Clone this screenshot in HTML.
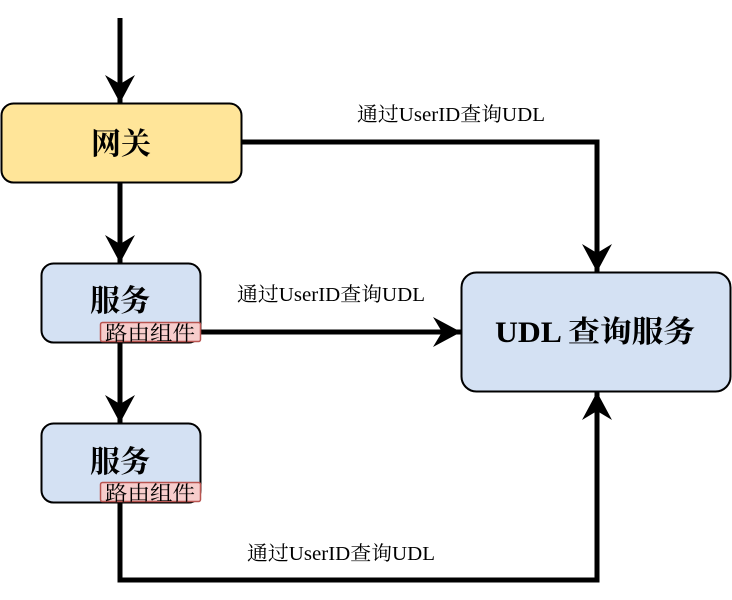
<!DOCTYPE html>
<html><head><meta charset="utf-8"><style>
html,body{margin:0;padding:0;background:#fff;}
svg{display:block;}
text{font-family:"Liberation Serif","Noto Serif CJK SC","Noto Sans CJK SC",serif;fill:#000;}
</style></head><body>
<svg width="732" height="600" viewBox="0 0 732 600" xmlns="http://www.w3.org/2000/svg">
<defs>
<marker id="a" viewBox="0 0 30 30" markerWidth="30" markerHeight="30" refX="28" refY="15" orient="auto" markerUnits="userSpaceOnUse">
<path d="M28,15 L0,0 L9,15 L0,30 Z" fill="#000"/>
</marker>
</defs>
<g stroke="#000" stroke-width="5" fill="none">
<path d="M120,18 V103" marker-end="url(#a)"/>
<path d="M120,182 V263" marker-end="url(#a)"/>
<path d="M120,342 V423" marker-end="url(#a)"/>
<path d="M242,142 H597 V272" marker-end="url(#a)"/>
<path d="M201,332 H461" marker-end="url(#a)"/>
<path d="M120,502 V580 H597 V392" marker-end="url(#a)"/>
</g>
<rect x="1.5" y="103.5" width="240" height="79" rx="12" fill="#ffe599" stroke="#000" stroke-width="2"/>
<text x="121" y="154" font-size="30" font-weight="bold" text-anchor="middle">网关</text>
<rect x="41.5" y="263.5" width="159" height="79" rx="12" fill="#d4e1f3" stroke="#000" stroke-width="2"/>
<text x="120" y="311" font-size="30" font-weight="bold" text-anchor="middle">服务</text>
<rect x="100.5" y="322.5" width="100" height="19" rx="2" fill="#f7cdcc" stroke="#b85450" stroke-width="1.5"/>
<text x="105" y="340" font-size="20" textLength="90" lengthAdjust="spacingAndGlyphs">路由组件</text>
<rect x="41.5" y="423.5" width="159" height="79" rx="12" fill="#d4e1f3" stroke="#000" stroke-width="2"/>
<text x="120" y="472" font-size="30" font-weight="bold" text-anchor="middle">服务</text>
<rect x="100.5" y="482.5" width="100" height="19" rx="2" fill="#f7cdcc" stroke="#b85450" stroke-width="1.5"/>
<text x="105" y="500" font-size="20" textLength="90" lengthAdjust="spacingAndGlyphs">路由组件</text>
<rect x="461.5" y="272.5" width="269" height="119" rx="15" fill="#d4e1f3" stroke="#000" stroke-width="2"/>
<text x="495" y="342" font-size="30" font-weight="bold" textLength="200" lengthAdjust="spacingAndGlyphs">UDL 查询服务</text>
<text x="357" y="121" font-size="20" textLength="188" lengthAdjust="spacingAndGlyphs">通过UserID查询UDL</text>
<text x="237" y="301" font-size="20" textLength="188" lengthAdjust="spacingAndGlyphs">通过UserID查询UDL</text>
<text x="247" y="560" font-size="20" textLength="188" lengthAdjust="spacingAndGlyphs">通过UserID查询UDL</text>
</svg>
</body></html>
